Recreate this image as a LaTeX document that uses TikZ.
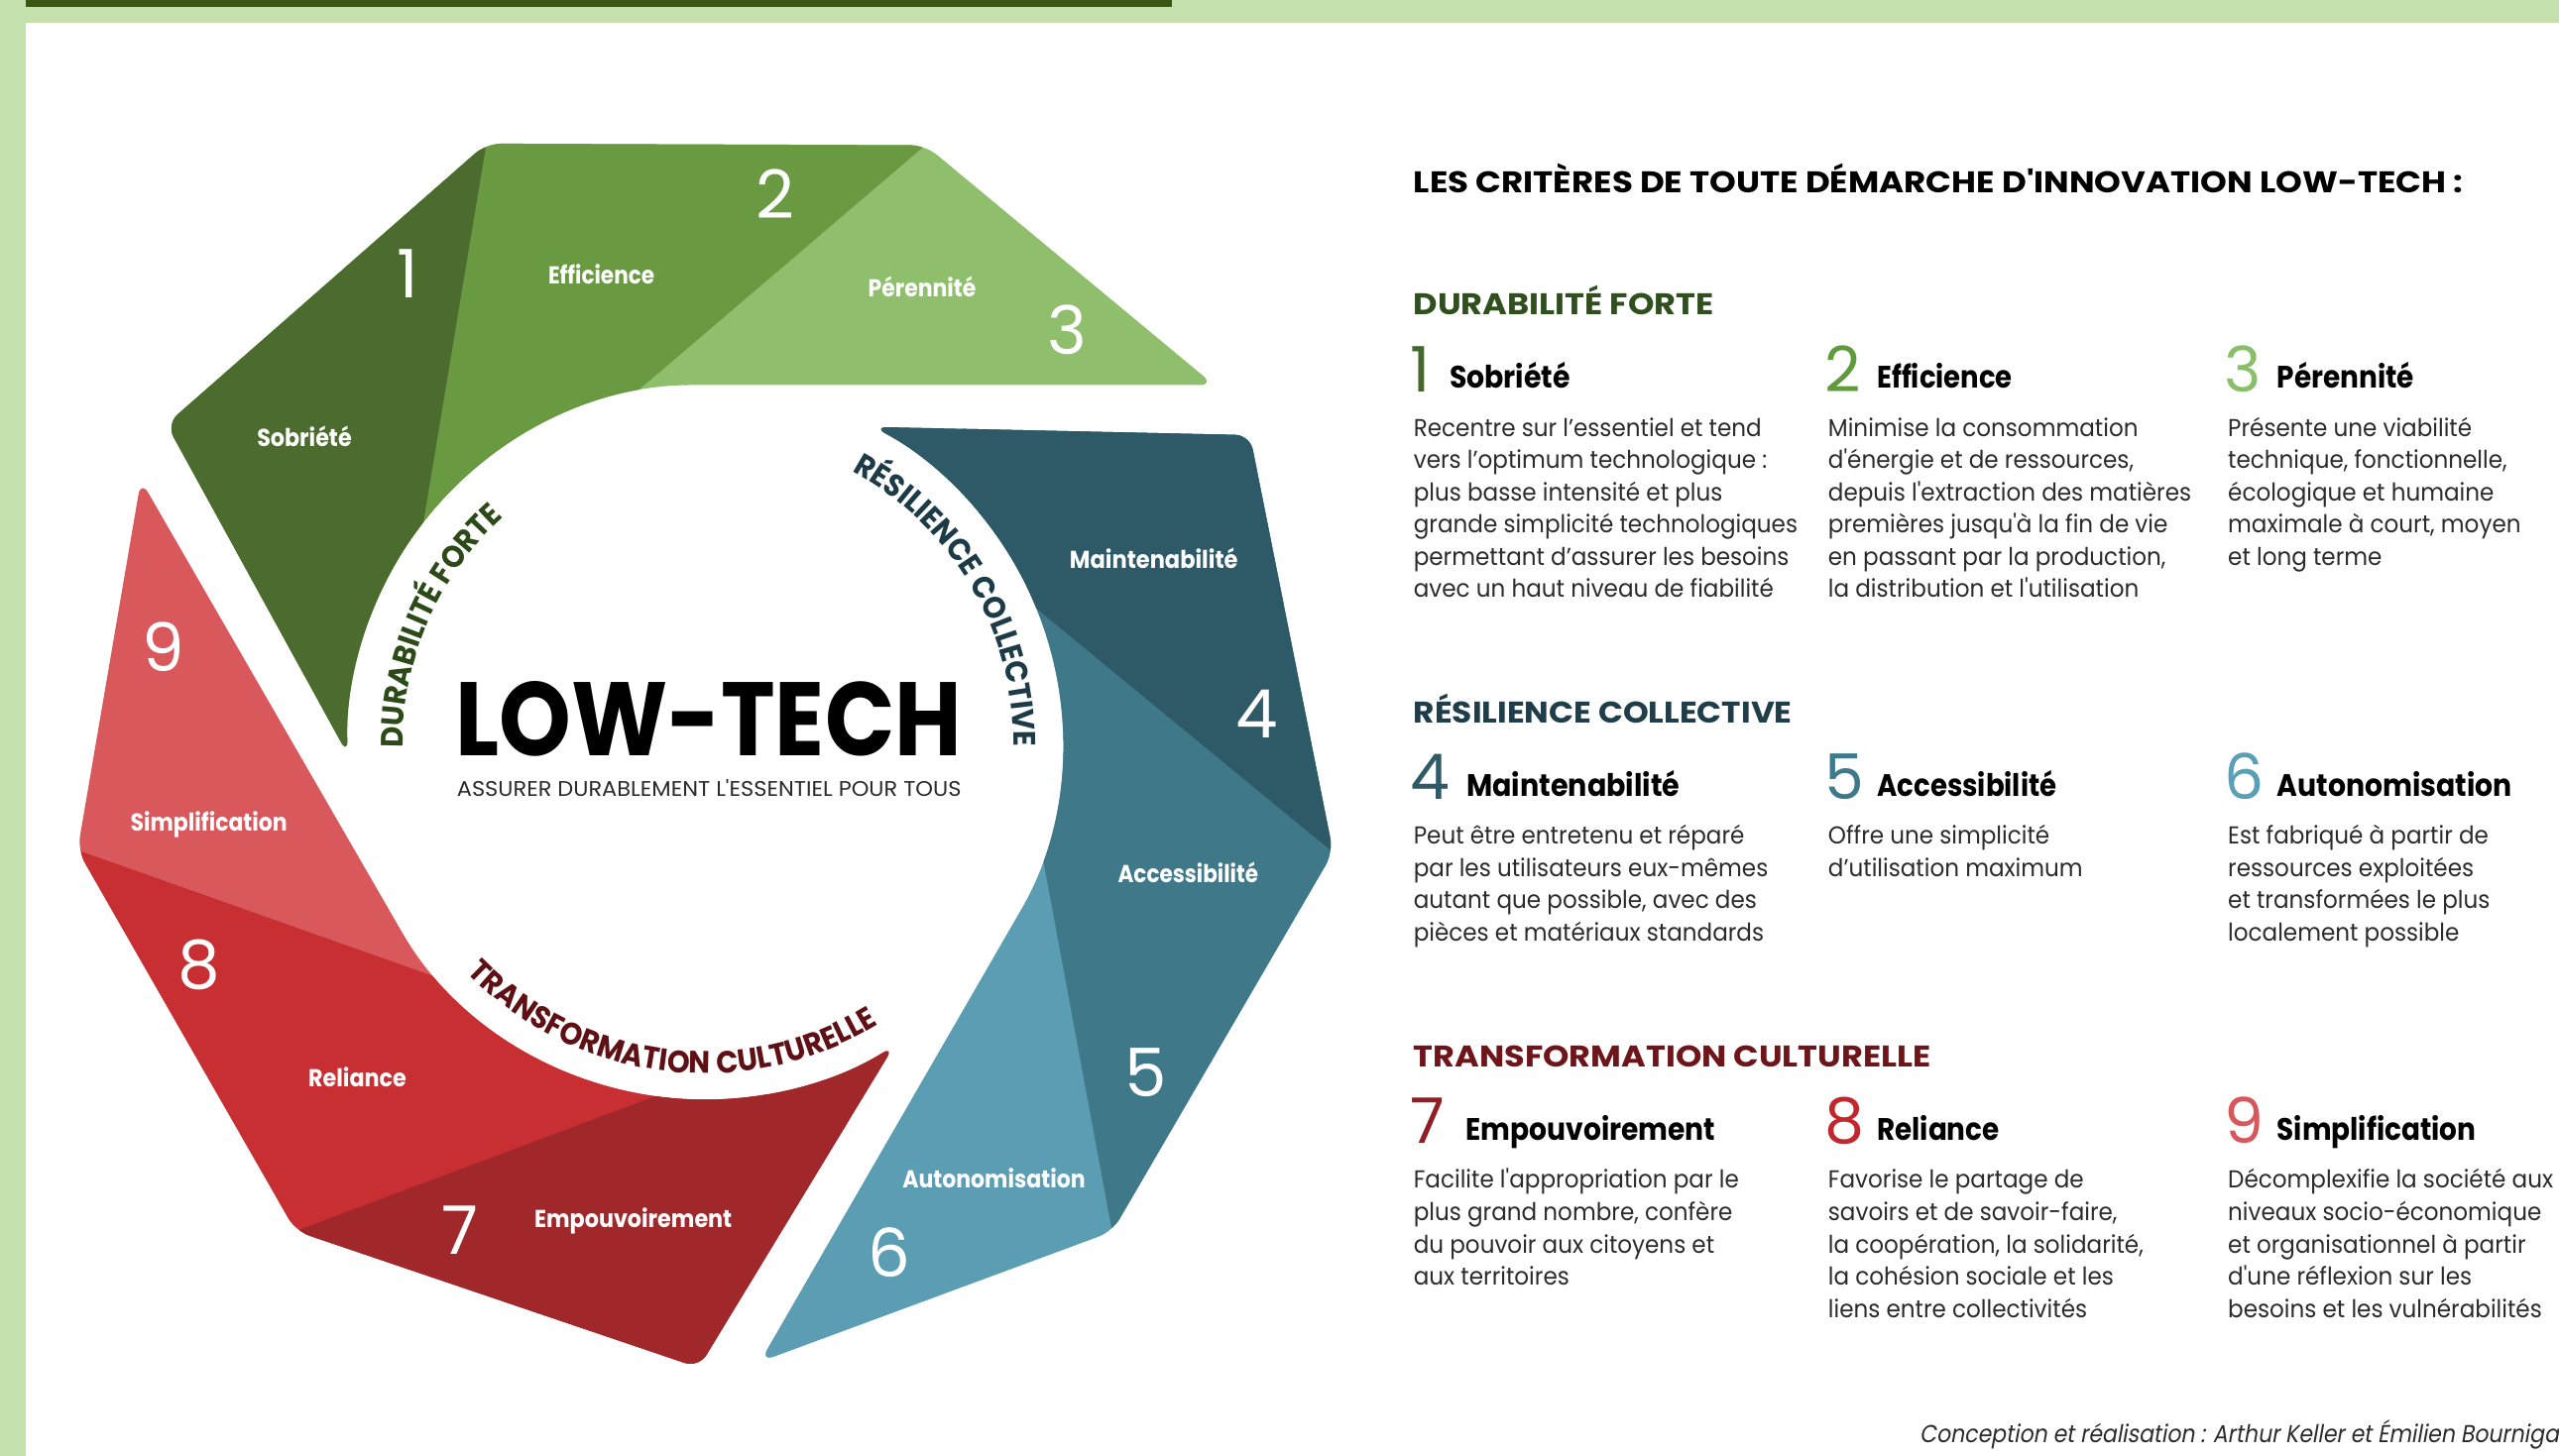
\documentclass[tikz,border=0pt]{standalone}
\usepackage{fontspec}
\usepackage{graphicx}
\setmainfont{Poppins}
\newfontfamily\bodyf{Poppins}[FakeStretch=0.935]
\newfontfamily\labf{Poppins}
\newfontfamily\numf{Poppins}
\newfontfamily\arcf{Poppins}[FakeStretch=0.93]
\newfontfamily\footf{Poppins}[FakeSlant=0.2]
\usetikzlibrary{decorations.text}
\newcommand\fitw[2]{\resizebox{#1}{\height}{#2}}
\definecolor{frameG}{HTML}{C3E0AD}
\definecolor{frameD}{HTML}{3B5713}
\definecolor{gA}{HTML}{4B6B2F}
\definecolor{gB}{HTML}{699A42}
\definecolor{gC}{HTML}{8FBE6C}
\definecolor{tA}{HTML}{2E5A68}
\definecolor{tB}{HTML}{3F7888}
\definecolor{tC}{HTML}{5B9DB3}
\definecolor{rA}{HTML}{A0282B}
\definecolor{rB}{HTML}{C72F33}
\definecolor{rC}{HTML}{D9585C}
\definecolor{arcG}{HTML}{2C4A18}
\definecolor{arcT}{HTML}{1C3B47}
\definecolor{arcR}{HTML}{5E1015}
\definecolor{hDF}{HTML}{304F1E}
\definecolor{hRC}{HTML}{1F3E49}
\definecolor{hTC}{HTML}{6E151A}
\definecolor{n1c}{HTML}{44682A}
\definecolor{n2c}{HTML}{5F9A3B}
\definecolor{n3c}{HTML}{88BF68}
\definecolor{n4c}{HTML}{2F5B69}
\definecolor{n5c}{HTML}{3E7A8C}
\definecolor{n6c}{HTML}{5B9FB6}
\definecolor{n7c}{HTML}{8F1F24}
\definecolor{n8c}{HTML}{C1272D}
\definecolor{n9c}{HTML}{D8575B}
\definecolor{bodygray}{HTML}{2B2B2B}
\newcommand\bandfill[3]{%
  \begin{scope}
    \clip[rounded corners=9pt] (0,219) arc[start angle=90,end angle=182,radius=219]
      -- (-330,195) -- (-134,367) -- (135,366) -- (312,219) -- cycle;
    \fill[#3] (-700,-700) rectangle (700,700);
    \fill[#2] (311.8,517) -- (-307,-11.5) -- (-600,-11.5) -- (-600,600) -- (311.8,600) -- cycle;
    \fill[#1] (-114.7,483.1) -- (-211.2,-97.4) -- (-600,-97.4) -- (-600,600) -- (-114.7,600) -- cycle;
  \end{scope}}
\begin{document}
\begin{tikzpicture}[x=1pt,y=1pt,
  wlab/.style={text=white, inner sep=0pt, anchor=base, font=\labf\bfseries\fontsize{15}{15}\selectfont},
  wnum/.style={text=white, inner sep=0pt, anchor=base, font=\numf\fontsize{41}{41}\selectfont},
  lnum/.style={inner sep=0pt, anchor=base west, font=\numf\fontsize{38.5}{38.5}\selectfont},
  llab/.style={inner sep=0pt, anchor=base west, text=black, font=\labf\bfseries\fontsize{19}{19}\selectfont},
  hcat/.style={inner sep=0pt, anchor=base west, font=\labf\bfseries\fontsize{18.3}{18.3}\selectfont},
  body/.style={inner sep=0pt, anchor=base west, align=left, text=bodygray, font=\bodyf\fontsize{15}{19.8}\selectfont}]
\useasboundingbox (0,0) rectangle (1568,-892.4);
\fill[white] (0,0) rectangle (1568,-892.4);
% frame
\fill[frameG] (0,0) rectangle (1568,-14);
\fill[frameD] (0,0) rectangle (718,-4);
\fill[frameG] (0,0) rectangle (16,-892.4);
% wheel
\begin{scope}[shift={(432,-455)}]
  \bandfill{gA}{gB}{gC}
  \begin{scope}[rotate=-120]\bandfill{tA}{tB}{tC}\end{scope}
  \begin{scope}[rotate=120]\bandfill{rA}{rB}{rC}\end{scope}
  \path[decorate, decoration={text along path, text align=center, text color=arcG,
     text={|\arcf\bfseries\fontsize{19}{19}\selectfont|DURABILITÉ FORTE}}]
     (206.4:185) arc[start angle=206.4, end angle=106.4, radius=185];
  \path[decorate, decoration={text along path, text align=center, text color=arcT,
     text={|\arcf\bfseries\fontsize{19}{19}\selectfont|RÉSILIENCE COLLECTIVE}}]
     (90.35:189) arc[start angle=90.35, end angle=-29.65, radius=189];
  \path[decorate, decoration={text along path, text align=center, text color=arcR,
     text={|\arcf\bfseries\fontsize{19}{19}\selectfont|TRANSFORMATION CULTURELLE}}]
     (202.8:203) arc[start angle=202.8, end angle=322.8, radius=203];
\end{scope}
% wheel labels
\node[wlab] (wl1) at (186.5,-273.8) {\fitw{58pt}{Sobriété}};
\node[wlab] (wl2) at (368.5,-174.2) {\fitw{65pt}{Efficience}};
\node[wlab] (wl3) at (565,-182.2) {\fitw{66pt}{Pérennité}};
\node[wlab] (wl4) at (707,-348.2) {\fitw{103pt}{Maintenabilité}};
\node[wlab] (wl5) at (728,-541.2) {\fitw{86pt}{Accessibilité}};
\node[wlab] (wl6) at (609,-728.2) {\fitw{112pt}{Autonomisation}};
\node[wlab] (wl7) at (388,-752.2) {\fitw{121pt}{Empouvoirement}};
\node[wlab] (wl8) at (219,-666.2) {\fitw{60pt}{Reliance}};
\node[wlab] (wl9) at (128,-509.2) {\fitw{96pt}{Simplification}};
\node[wnum] (wn1) at (250,-182.5) {1};
\node[wnum] (wn2) at (475,-134) {2};
\node[wnum] (wn3) at (654,-217) {3};
\node[wnum] (wn4) at (770,-452) {4};
\node[wnum] (wn5) at (702,-672) {5};
\node[wnum] (wn6) at (545,-783) {6};
\node[wnum] (wn7) at (282,-769) {7};
\node[wnum] (wn8) at (122,-606) {8};
\node[wnum] (wn9) at (100,-411.6) {9};
% centre
\node[inner sep=0pt, anchor=base, font=\labf\bfseries\fontsize{64}{64}\selectfont] (title) at (434.3,-463) {\fitw{310pt}{LOW-TECH}};
\node[inner sep=0pt, anchor=base, text=bodygray, font=\bodyf\fontsize{13}{13}\selectfont] (subtitle) at (434.5,-488) {\fitw{309pt}{ASSURER DURABLEMENT L'ESSENTIEL POUR TOUS}};
% right column
\node[hcat, text=black] (head) at (866,-118) {\fitw{643pt}{LES CRITÈRES DE TOUTE DÉMARCHE D'INNOVATION LOW-TECH :}};
\node[hcat, text=hDF] (hdf) at (866,-193) {\fitw{184pt}{DURABILITÉ FORTE}};
\node[hcat, text=hRC] (hrc) at (866,-443) {\fitw{232pt}{RÉSILIENCE COLLECTIVE}};
\node[hcat, text=hTC] (htc) at (866,-654) {\fitw{317pt}{TRANSFORMATION CULTURELLE}};
% row 1 (body nodes anchored at the baseline of their last line)
\node[lnum, text=n1c] (n1) at (864,-240) {1};
\node[lnum, text=n2c] (n2) at (1118,-240) {2};
\node[lnum, text=n3c] (n3) at (1363,-240) {3};
\node[llab] (l1) at (888,-238) {\fitw{74pt}{Sobriété}};
\node[llab] (l2) at (1150,-238) {\fitw{83pt}{Efficience}};
\node[llab] (l3) at (1395,-238) {\fitw{84pt}{Pérennité}};
\node[body] (b1) at (866,-366.3) {Recentre sur l’essentiel et tend\\vers l’optimum technologique :\\plus basse intensité et plus\\grande simplicité technologiques\\permettant d’assurer les besoins\\avec un haut niveau de fiabilité};
\node[body] (b2) at (1120,-366.3) {Minimise la consommation\\d'énergie et de ressources,\\depuis l'extraction des matières\\premières jusqu'à la fin de vie\\en passant par la production,\\la distribution et l'utilisation};
\node[body] (b3) at (1365,-346.5) {Présente une viabilité\\technique, fonctionnelle,\\écologique et humaine\\maximale à court, moyen\\et long terme};
% row 2
\node[lnum, text=n4c] (n4) at (864,-490) {4};
\node[lnum, text=n5c] (n5) at (1118,-490) {5};
\node[lnum, text=n6c] (n6) at (1363,-490) {6};
\node[llab] (l4) at (898.5,-488) {\fitw{130.6pt}{Maintenabilité}};
\node[llab] (l5) at (1150,-488) {\fitw{110pt}{Accessibilité}};
\node[llab] (l6) at (1395,-488) {\fitw{144pt}{Autonomisation}};
\node[body] (b4) at (866,-576.7) {Peut être entretenu et réparé\\par les utilisateurs eux-mêmes\\autant que possible, avec des\\pièces et matériaux standards};
\node[body] (b5) at (1120,-537.1) {Offre une simplicité\\d’utilisation maximum};
\node[body] (b6) at (1365,-576.7) {Est fabriqué à partir de\\ressources exploitées\\et transformées le plus\\localement possible};
% row 3
\node[lnum, text=n7c] (n7) at (864,-701) {7};
\node[lnum, text=n8c] (n8) at (1118,-701) {8};
\node[lnum, text=n9c] (n9) at (1363,-701) {9};
\node[llab] (l7) at (898,-699) {\fitw{153pt}{Empouvoirement}};
\node[llab] (l8) at (1150,-699) {\fitw{75pt}{Reliance}};
\node[llab] (l9) at (1395,-699) {\fitw{122pt}{Simplification}};
\node[body] (b7) at (866,-787.7) {Facilite l'appropriation par le\\plus grand nombre, confère\\du pouvoir aux citoyens et\\aux territoires};
\node[body] (b8) at (1120,-807.5) {Favorise le partage de\\savoirs et de savoir-faire,\\la coopération, la solidarité,\\la cohésion sociale et les\\liens entre collectivités};
\node[body] (b9) at (1365,-807.5) {Décomplexifie la société aux\\niveaux socio-économique\\et organisationnel à partir\\d'une réflexion sur les\\besoins et les vulnérabilités};
% footer
\node[inner sep=0pt, anchor=base west, text=bodygray, font=\footf\fontsize{15}{15}\selectfont] (foot) at (1176,-884) {\fitw{395pt}{Conception et réalisation : Arthur Keller et Émilien Bournigal}};
\end{tikzpicture}
\end{document}
